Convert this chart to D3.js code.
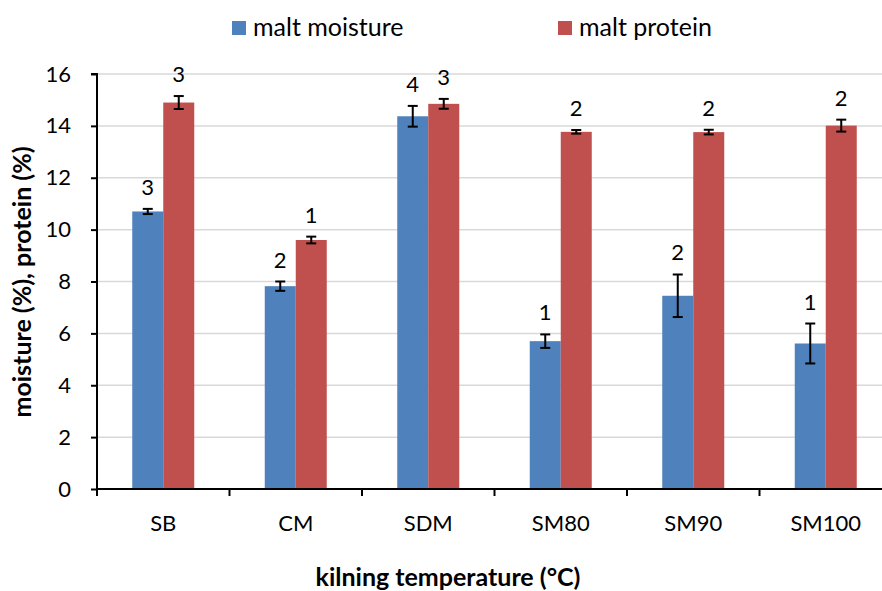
<!DOCTYPE html>
<html>
<head>
<meta charset="utf-8">
<script src="https://cdn.jsdelivr.net/npm/d3@7"></script>
<style>
  body { margin: 0; background: #fff; }
  text { font-family: Lato, "Open Sans", sans-serif; }
</style>
</head>
<body>
<svg></svg>
<script>
const categories = ['SB', 'CM', 'SDM', 'SM80', 'SM90', 'SM100'];
const seriesNames = ['malt moisture', 'malt protein'];
const colors = ['#4f81bd', '#c0504d'];
const moisture = [10.70, 7.82, 14.37, 5.70, 7.45, 5.61];
const moistureErr = [0.10, 0.18, 0.40, 0.26, 0.82, 0.77];
const moistureLbl = ['3', '2', '4', '1', '2', '1'];
const protein = [14.90, 9.60, 14.85, 13.77, 13.76, 14.01];
const proteinErr = [0.25, 0.13, 0.19, 0.07, 0.09, 0.23];
const proteinLbl = ['3', '1', '3', '2', '2', '2'];
const yTicks = [0, 2, 4, 6, 8, 10, 12, 14, 16];

const width = 882;
const height = 591;
const pd = { left: 97, top: 74, bottom: 489 };

const svg = d3.select('svg')
  .attr('width', width)
  .attr('height', height)

const x = d3.scaleBand()
  .domain(categories)
  .range([pd.left, pd.left + 6 * 132.5])

const xs = d3.scaleBand()
  .domain([0, 1])
  .range([0, 62])

const y = d3.scaleLinear()
  .domain([0, 16])
  .range([pd.bottom, pd.top])

// gridlines
svg.append('g')
  .selectAll('line')
  .data(yTicks.slice(1))
  .enter()
  .append('line')
  .attr('x1', pd.left)
  .attr('x2', width)
  .attr('y1', d => y(d))
  .attr('y2', d => y(d))
  .attr('stroke', '#d9d9d9')
  .attr('stroke-width', 1.5)

const data = categories.map((c, i) => ({
  cat: c,
  vals: [
    { s: 0, v: moisture[i], e: moistureErr[i], l: moistureLbl[i] },
    { s: 1, v: protein[i], e: proteinErr[i], l: proteinLbl[i] }
  ]
}))

const groups = svg.append('g')
  .selectAll('g')
  .data(data)
  .enter()
  .append('g')
  .attr('transform', d => `translate(${x(d.cat) + x.bandwidth() / 2 - 31}, 0)`)

groups.selectAll('rect')
  .data(d => d.vals)
  .enter()
  .append('rect')
  .attr('x', d => xs(d.s))
  .attr('width', xs.bandwidth())
  .attr('y', d => y(d.v))
  .attr('height', d => y(0) - y(d.v))
  .attr('fill', (d) => colors[d.s])

// error bars
const eb = groups.selectAll('g.err')
  .data(d => d.vals)
  .enter()
  .append('g')
  .attr('class', 'err')
  .attr('stroke', '#000')
  .attr('stroke-width', 2)

const cx = d => xs(d.s) + xs.bandwidth() / 2
eb.append('line')
  .attr('x1', cx)
  .attr('x2', cx)
  .attr('y1', d => y(d.v + d.e))
  .attr('y2', d => y(d.v - d.e))
eb.append('line')
  .attr('x1', d => cx(d) - 5)
  .attr('x2', d => cx(d) + 5)
  .attr('y1', d => y(d.v + d.e))
  .attr('y2', d => y(d.v + d.e))
eb.append('line')
  .attr('x1', d => cx(d) - 5)
  .attr('x2', d => cx(d) + 5)
  .attr('y1', d => y(d.v - d.e))
  .attr('y2', d => y(d.v - d.e))

groups.selectAll('text')
  .data(d => d.vals)
  .enter()
  .append('text')
  .attr('x', cx)
  .attr('y', d => y(d.v + d.e) - 14)
  .attr('text-anchor', 'middle')
  .attr('font-size', 22)
  .attr('fill', '#000')
  .text(d => d.l)

// axes
const ya = svg.append('g')
  .attr('transform', `translate(${pd.left}, 0)`)
  .call(d3.axisLeft(y).tickValues(yTicks).tickSize(6).tickPadding(20))
ya.select('.domain').attr('stroke-width', 2).attr('d', `M-6,${pd.top}H0V${pd.bottom}`)
ya.selectAll('.tick line').attr('stroke-width', 2)
ya.selectAll('text').attr('font-size', 22).attr('fill', '#000').attr('font-family', 'Lato, sans-serif')

const xa = svg.append('g')
  .attr('transform', `translate(0, ${pd.bottom})`)
  .call(d3.axisBottom(x).tickSize(0).tickPadding(26))
xa.select('.domain').attr('stroke-width', 2).attr('d', `M${pd.left},0H${width}`)
xa.selectAll('text').attr('font-size', 22).attr('fill', '#000').attr('font-family', 'Lato, sans-serif')

svg.append('g')
  .selectAll('line')
  .data(categories)
  .enter()
  .append('line')
  .attr('x1', d => x(d))
  .attr('x2', d => x(d))
  .attr('y1', pd.bottom)
  .attr('y2', pd.bottom + 7)
  .attr('stroke', '#000')
  .attr('stroke-width', 2)

// axis titles
svg.append('text')
  .attr('x', 448)
  .attr('y', 586)
  .attr('text-anchor', 'middle')
  .attr('font-size', 25)
  .attr('font-weight', 'bold')
  .text('kilning temperature (°C)')

svg.append('text')
  .attr('transform', 'translate(31, 282) rotate(-90)')
  .attr('text-anchor', 'middle')
  .attr('font-size', 25)
  .attr('font-weight', 'bold')
  .text('moisture (%), protein (%)')

// legend
const lg = svg.append('g')
  .selectAll('g')
  .data(seriesNames)
  .enter()
  .append('g')
  .attr('transform', (d, i) => `translate(${i === 0 ? 232 : 558}, 21)`)
lg.append('rect')
  .attr('width', 14)
  .attr('height', 14)
  .attr('fill', (d, i) => colors[i])
lg.append('text')
  .attr('x', 21)
  .attr('y', 15)
  .attr('font-size', 25)
  .text(d => d)
</script>
</body>
</html>
